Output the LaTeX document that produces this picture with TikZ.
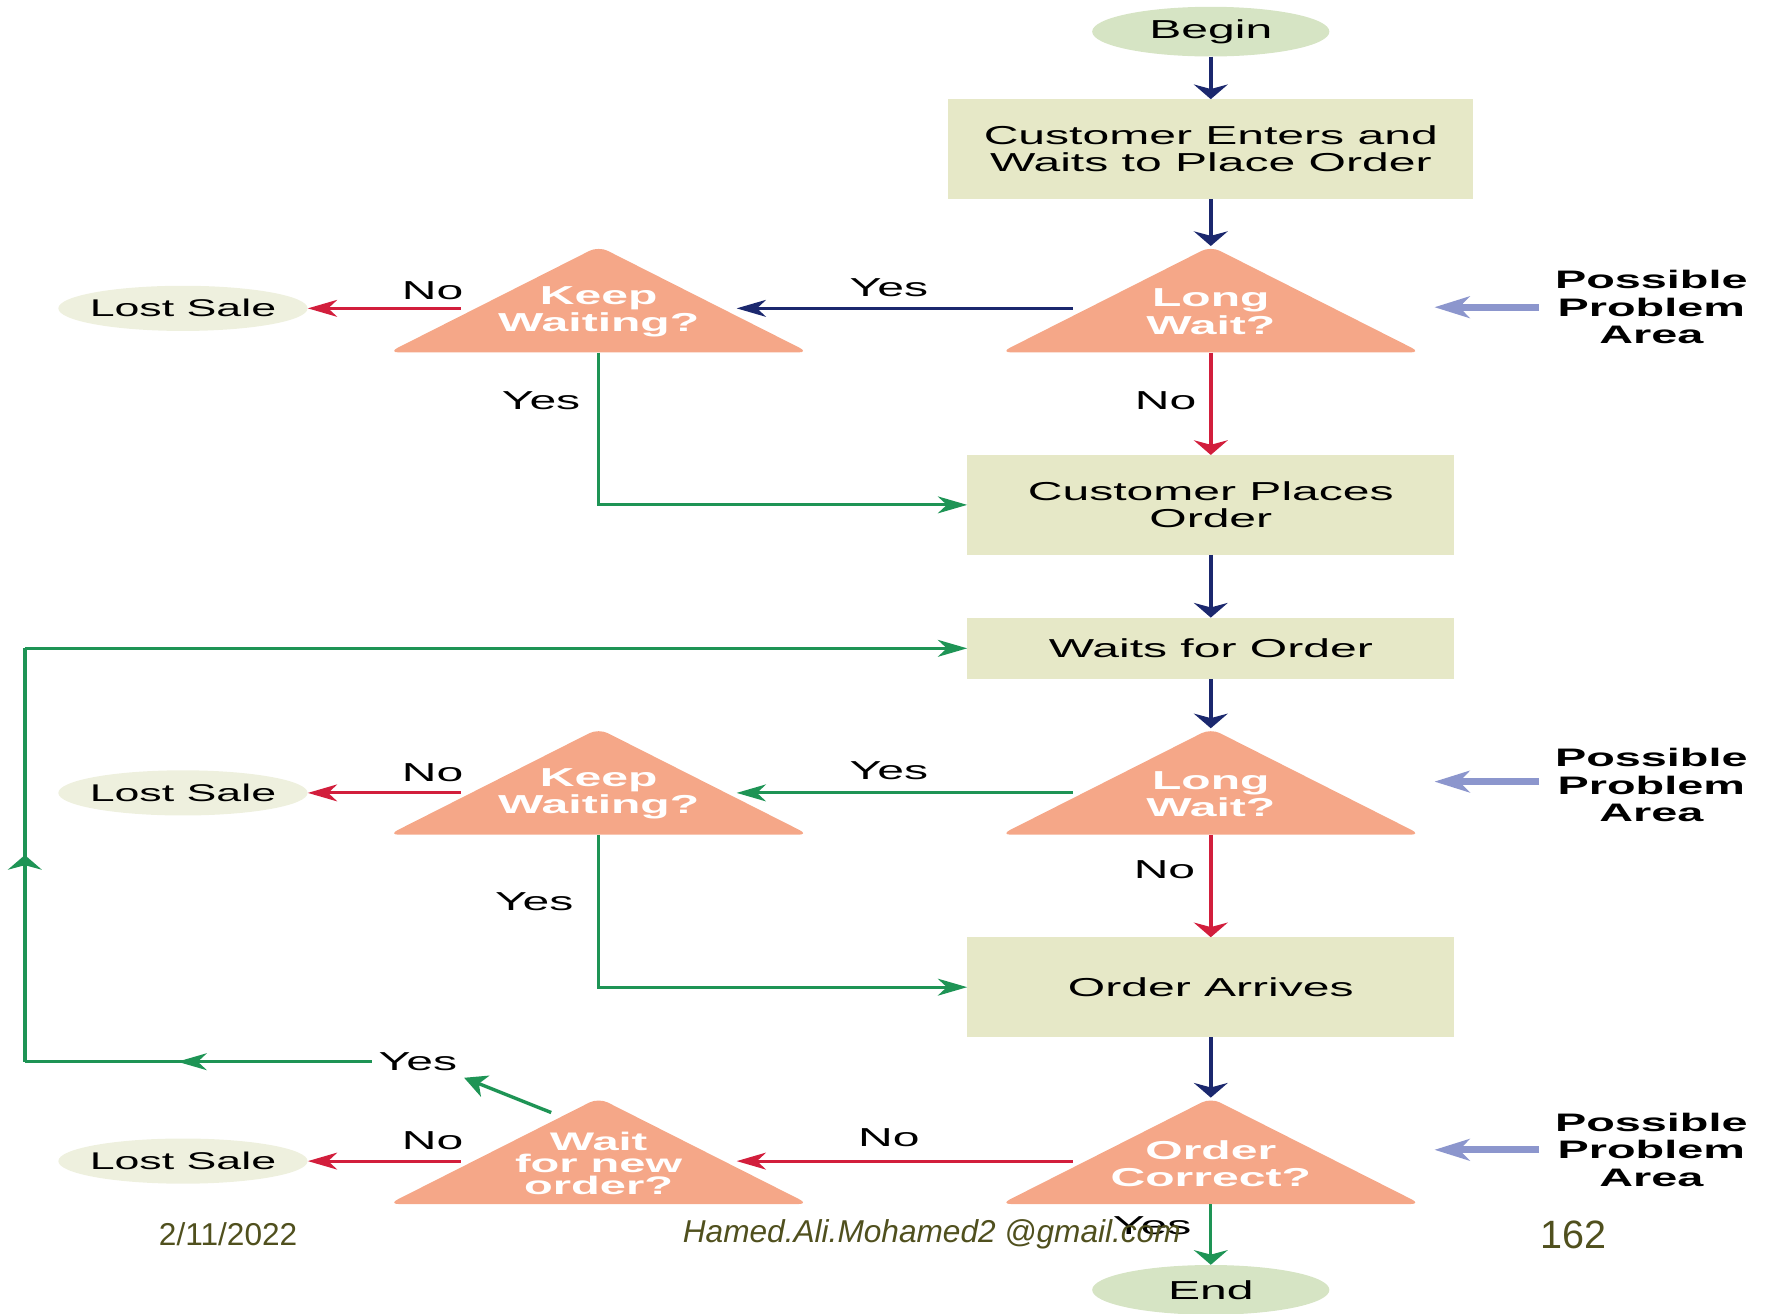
\documentclass[tikz,border=0pt]{standalone}
\usepackage{fontspec}
\setmainfont{Liberation Sans}
\newfontfamily\widefont[FakeStretch=1.85]{Liberation Sans}
\usetikzlibrary{arrows.meta,decorations.markings,backgrounds,positioning,shapes.geometric}
\definecolor{boxfill}{RGB}{230,232,199}
\definecolor{termfill}{RGB}{214,228,196}
\definecolor{lostfill}{RGB}{238,240,222}
\definecolor{trifill}{RGB}{245,167,136}
\definecolor{navyc}{RGB}{27,40,110}
\definecolor{redc}{RGB}{210,30,60}
\definecolor{greenc}{RGB}{30,148,85}
\definecolor{lavc}{RGB}{140,150,205}
\definecolor{footc}{RGB}{80,80,30}
\tikzset{
  box/.style={fill=boxfill,minimum width=431pt,minimum height=88pt,inner sep=0pt,align=center,
    font=\widefont\fontsize{23}{24}\selectfont},
  term/.style={ellipse,fill=termfill,minimum width=210pt,minimum height=44pt,inner sep=0pt,
    font=\widefont\fontsize{23}{24}\selectfont},
  lost/.style={ellipse,fill=lostfill,minimum width=220pt,minimum height=40pt,inner ysep=0pt,
    inner xsep=-4.5pt,font=\widefont\fontsize{21.4}{24}\selectfont},
  tri/.style={minimum width=244pt,minimum height=72pt,inner sep=0pt,text=white,align=center,
    font=\widefont\bfseries\fontsize{23}{24}\selectfont},
  lbl/.style={inner sep=2pt,font=\widefont\fontsize{23}{24}\selectfont},
  note/.style={inner sep=0pt,align=center,font=\widefont\bfseries\fontsize{22.4}{24.5}\selectfont},
  vtip/.style={-{Stealth[length=13pt,width=30pt,inset=4pt]}},
  htip/.style={-{Stealth[length=26pt,width=15pt,inset=8pt]}},
  hz/.style={line width=2.5pt,htip},
  navy/.style={draw=navyc,line width=3.5pt,vtip},
  red/.style={draw=redc,line width=3.5pt,vtip},
  gline/.style={draw=greenc,line width=3pt},
  green/.style={gline,vtip},
  lav/.style={draw=lavc,line width=6pt,-{Stealth[length=31pt,width=19pt,inset=9pt]}},
  midh/.style={postaction={decorate},decoration={markings,
    mark=at position #1 with {\arrow{Stealth[length=26pt,width=15pt,inset=8pt]}}}},
  midv/.style={postaction={decorate},decoration={markings,
    mark=at position #1 with {\arrow{Stealth[length=13pt,width=30pt,inset=4pt]}}}},
  foot/.style={text=footc,inner sep=0pt}
}
\begin{document}
\begin{tikzpicture}[x=1pt,y=-1pt]
  \useasboundingbox (0,0) rectangle (1568,1163);
  \node[term] (begin) at (1072,28) {Begin};
  \node[box,minimum width=465pt] (enter) at (1072,132) {Customer Enters and\\Waits to Place Order};
  \node[tri] (wait1) at (1072,276) {Long\\Wait?};
  \node[tri] (keep1) at (530,276) {Keep\\Waiting?};
  \node[lost] (lost1) at (162,273) {Lost Sale};
  \node[note] (area1) at (1462,272) {Possible\\Problem\\Area};
  \node[box] (places) at (1072,447) {Customer Places\\Order};
  \node[box,minimum height=54pt] (waits) at (1072,574) {Waits for Order};
  \node[tri] (wait2) at (1072,703) {Long\\Wait?};
  \node[tri] (keep2) at (530,703) {Keep\\Waiting?};
  \node[lost] (lost2) at (162,702) {Lost Sale};
  \node[note] (area2) at (1462,695) {Possible\\Problem\\Area};
  \node[box] (arrives) at (1072,874) {Order Arrives};
  \node[tri] (correct) at (1072,1030) {Order\\Correct?};
  \node[tri,font=\widefont\bfseries\fontsize{22.5}{19.5}\selectfont] (again) at (530,1030) {Wait\\for new\\order?};
  \node[lost] (lost3) at (162,1028) {Lost Sale};
  \node[note] (area3) at (1462,1018) {Possible\\Problem\\Area};
  \node[term] (end) at (1072,1142) {End};
  \coordinate (loopa) at (22,940);
  \coordinate (pa1) at (1270,272);
  \coordinate (pa2) at (1270,692);
  \coordinate (pa3) at (1270,1018);

  \begin{scope}[on background layer]
    \foreach \t in {wait1,keep1,wait2,keep2,correct,again}
      \fill[trifill,rounded corners=9pt] ([yshift=58pt]\t.center)
        -- ([shift={(-186pt,-36pt)}]\t.center) -- ([shift={(186pt,-36pt)}]\t.center) -- cycle;
  \end{scope}

  \node[lbl] (y1) at (787,255) {Yes};
  \node[lbl] (n1) at (383,257) {No};
  \node[lbl] (n2) at (1032,355) {No};
  \node[lbl] (y2) at (479,355) {Yes};
  \node[lbl] (y3) at (787,682) {Yes};
  \node[lbl] (n3) at (383,684) {No};
  \node[lbl] (n4) at (1031,770) {No};
  \node[lbl] (y4) at (473,798) {Yes};
  \node[lbl,inner sep=6pt] (y5) at (370,940) {Yes};
  \node[lbl] (n5) at (787,1007) {No};
  \node[lbl] (n6) at (383,1010) {No};
  \node[lbl] (y6) at (1020,1085) {Yes};

  \draw[navy] (begin) -- (enter);
  \draw[navy] (enter.south) -- ([yshift=22pt]wait1.north);
  \draw[navy,hz] (wait1.west |- lost1) -- (keep1.east |- lost1);
  \draw[red,hz] (keep1.west |- lost1) -- (lost1.east);
  \draw[red] (wait1.south) -- (places.north);
  \draw[green,hz] (keep1.south) |- (places.west);
  \draw[navy] (places) -- (waits);
  \draw[navy] (waits.south) -- ([yshift=22pt]wait2.north);
  \draw[green,hz] (wait2.west |- lost2) -- (keep2.east |- lost2);
  \draw[red,hz] (keep2.west |- lost2) -- (lost2.east);
  \draw[red] (wait2.south) -- (arrives.north);
  \draw[green,hz] (keep2.south) |- (arrives.west);
  \draw[navy] (arrives.south) -- ([yshift=22pt]correct.north);
  \draw[red,hz] (correct.west |- lost3) -- (again.east |- lost3);
  \draw[red,hz] (again.west |- lost3) -- (lost3.east);
  \draw[green,-{Stealth[length=20pt,width=20pt,inset=6pt]}] ([shift={(-42pt,45pt)}]again.center) -- (y5.south east);
  \draw[gline,line width=2.5pt,midh=0.56] (y5.west) -- (loopa);
  \draw[gline,midv=0.5] (loopa) -- (loopa |- waits.west);
  \draw[green,hz] (loopa |- waits.west) -- (waits.west);
  \draw[green] (correct.south) -- (end);
  \draw[lav,shorten <=14pt] (area1.west) -- (pa1);
  \draw[lav,shorten <=14pt] (area2.west |- pa2) -- (pa2);
  \draw[lav,shorten <=14pt] (area3.west) -- (pa3);

  \node[foot,font=\fontsize{28}{30}\selectfont] (date) at (202,1093) {2/11/2022};
  \node[foot,font=\itshape\fontsize{28}{30}\selectfont] (mail) at (825,1093) {Hamed.Ali.Mohamed2 @gmail.com};
  \node[foot,font=\fontsize{35}{36}\selectfont] (page) at (1393,1093) {162};
\end{tikzpicture}
\end{document}
